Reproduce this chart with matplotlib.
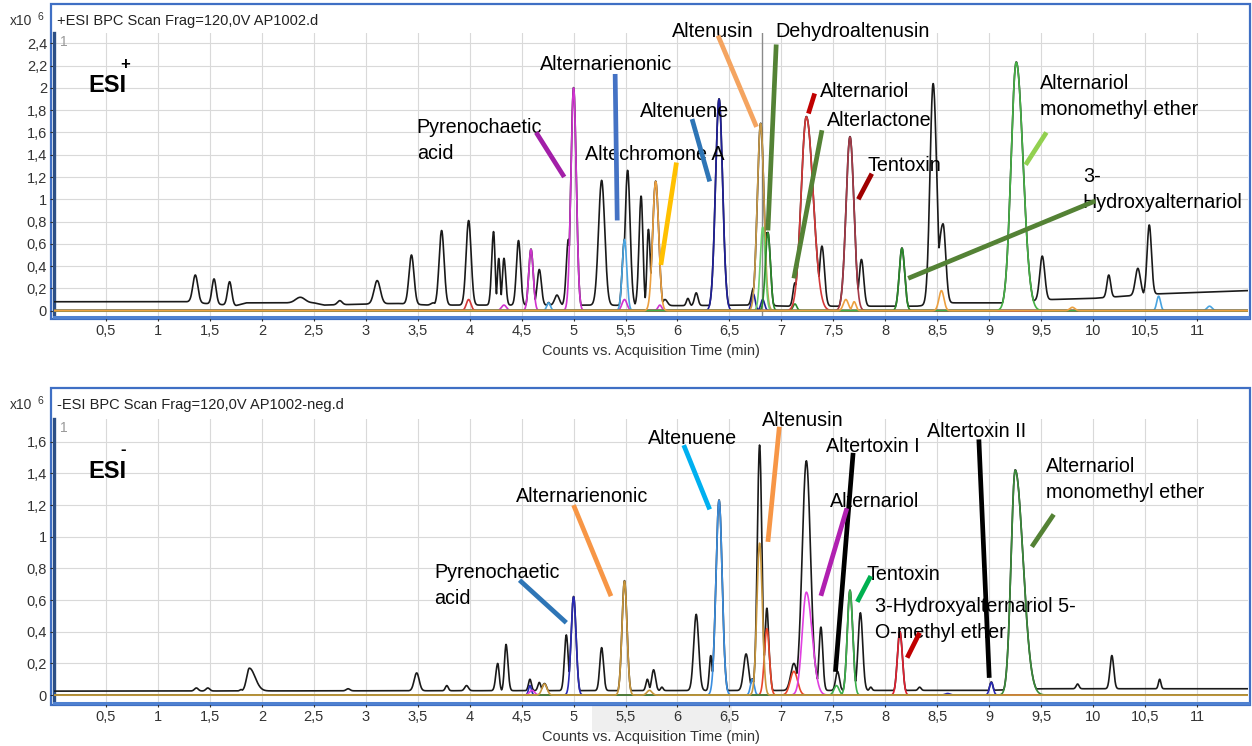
import numpy as np
import matplotlib
matplotlib.use("Agg")
import matplotlib.pyplot as plt
from matplotlib.patches import Rectangle
from matplotlib.ticker import FixedLocator, FuncFormatter

plt.rcParams['font.family'] = ['Liberation Sans', 'DejaVu Sans']

W, H = 1252, 746

# ======================= DATA : ESI+ =======================
# BPC (black) baseline breakpoints (min, x10^6 counts)
POS_BASE_T = [0, 1.3, 1.45, 1.75, 1.85, 2.25, 2.5, 2.6, 3.3, 3.6, 4.1, 5.0, 6.0, 6.7, 7.05, 7.5, 7.85, 8.3, 8.65, 9.15, 9.6, 10.0, 10.6, 11.49]
POS_BASE_V = [0.08, 0.08, 0.065, 0.045, 0.07, 0.07, 0.07, 0.05, 0.065, 0.05, 0.05, 0.05, 0.045, 0.05, 0.04, 0.04, 0.04, 0.04, 0.07, 0.07, 0.1, 0.11, 0.15, 0.18]
# peaks: (retention time, apex height, left width, right width)
POS_BPC = [(1.36, 0.32, 0.024, 0.024), (1.54, 0.285, 0.02, 0.02), (1.69, 0.26, 0.02, 0.02),
           (2.37, 0.12, 0.045, 0.045), (2.75, 0.09, 0.022, 0.022), (3.11, 0.27, 0.03, 0.03),
           (3.44, 0.50, 0.024, 0.024), (3.65, 0.07, 0.022, 0.022), (3.73, 0.72, 0.024, 0.024),
           (3.99, 0.81, 0.024, 0.024), (4.23, 0.71, 0.018, 0.014), (4.28, 0.47, 0.013, 0.013),
           (4.33, 0.47, 0.015, 0.017), (4.47, 0.63, 0.02, 0.02), (4.67, 0.37, 0.02, 0.02),
           (4.84, 0.14, 0.022, 0.022), (4.95, 0.64, 0.02, 0.02), (5.27, 1.17, 0.03, 0.03),
           (5.52, 1.26, 0.024, 0.024), (5.65, 1.03, 0.02, 0.017), (5.72, 0.73, 0.014, 0.018),
           (5.88, 0.1, 0.022, 0.022), (6.10, 0.11, 0.014, 0.014), (6.18, 0.16, 0.017, 0.017),
           (6.73, 0.2, 0.018, 0.018), (6.86, 0.7, 0.024, 0.024), (7.13, 0.25, 0.018, 0.018),
           (7.39, 0.58, 0.024, 0.024), (7.77, 0.46, 0.022, 0.022), (8.46, 2.04, 0.03, 0.034),
           (8.555, 0.78, 0.045, 0.026), (9.51, 0.49, 0.024, 0.024), (10.15, 0.32, 0.018, 0.018),
           (10.43, 0.38, 0.024, 0.024), (10.54, 0.77, 0.021, 0.021)]
POS_MAGENTA = [(4.33, 0.05, 0.024, 0.024), (4.59, 0.55, 0.022, 0.022), (5.0, 2.0, 0.026, 0.026),
               (5.49, 0.1, 0.024, 0.024), (5.83, 0.05, 0.018, 0.018)]
POS_LIGHTBLUE = [(4.76, 0.07, 0.018, 0.018), (5.49, 0.64, 0.022, 0.022),
                 (10.63, 0.13, 0.018, 0.018), (11.12, 0.04, 0.024, 0.024)]
POS_NAVY = [(6.40, 1.9, 0.034, 0.034), (6.73, 0.15, 0.018, 0.018), (6.82, 0.1, 0.018, 0.018)]
POS_TAN = [(6.80, 1.68, 0.032, 0.032)]
POS_LIGHTGREEN = [(6.82, 0.75, 0.024, 0.024)]
POS_DARKGREEN = [(6.87, 0.7, 0.024, 0.024), (7.13, 0.06, 0.018, 0.018), (8.16, 0.56, 0.026, 0.026)]
POS_RED = [(3.99, 0.1, 0.022, 0.022), (7.24, 1.74, 0.05, 0.065)]
POS_MAROON = [(7.66, 1.56, 0.038, 0.038)]
POS_AME = [(9.26, 2.23, 0.05, 0.065)]
POS_ORANGE = [(5.79, 1.16, 0.029, 0.029), (7.62, 0.1, 0.024, 0.024), (7.70, 0.08, 0.018, 0.018),
              (8.54, 0.18, 0.024, 0.024), (9.8, 0.03, 0.024, 0.024)]

POS_LABELS = ["Pyrenochaetic\nacid", "Alternarienonic", "Altenuene", "Altechromone A",
              "Altenusin", "Dehydroaltenusin", "Alternariol", "Alterlactone", "Tentoxin",
              "Alternariol\nmonomethyl ether", "3-\nHydroxyalternariol"]

# ======================= DATA : ESI- =======================
NEG_BASE_T = [0, 4.5, 9.0, 9.5, 11.49]
NEG_BASE_V = [0.025, 0.028, 0.03, 0.04, 0.04]
NEG_BPC = [(1.37, 0.045, 0.018, 0.018), (1.48, 0.045, 0.018, 0.018), (1.80, 0.035, 0.012, 0.012),
           (1.88, 0.17, 0.026, 0.055), (2.83, 0.04, 0.018, 0.018), (3.49, 0.14, 0.024, 0.024),
           (3.78, 0.06, 0.014, 0.014), (3.97, 0.06, 0.018, 0.018), (4.27, 0.2, 0.018, 0.014),
           (4.35, 0.32, 0.015, 0.018), (4.58, 0.1, 0.014, 0.014), (4.67, 0.08, 0.014, 0.014),
           (4.93, 0.38, 0.018, 0.018), (5.27, 0.3, 0.018, 0.018), (5.71, 0.1, 0.014, 0.014),
           (5.77, 0.16, 0.018, 0.018), (5.85, 0.05, 0.012, 0.012), (6.18, 0.51, 0.024, 0.024),
           (6.32, 0.25, 0.014, 0.014), (6.66, 0.26, 0.024, 0.024), (6.79, 1.58, 0.022, 0.022),
           (6.86, 0.55, 0.018, 0.018), (7.12, 0.2, 0.03, 0.03), (7.24, 1.48, 0.04, 0.04),
           (7.38, 0.43, 0.018, 0.018), (7.54, 0.15, 0.018, 0.018), (7.76, 0.52, 0.022, 0.022),
           (7.86, 0.05, 0.012, 0.012), (8.33, 0.05, 0.014, 0.014), (9.85, 0.07, 0.014, 0.014),
           (10.18, 0.25, 0.018, 0.018), (10.64, 0.1, 0.012, 0.012)]
NEG_NAVY = [(4.58, 0.06, 0.014, 0.014), (5.0, 0.62, 0.024, 0.024), (8.6, 0.01, 0.024, 0.024),
            (9.02, 0.08, 0.018, 0.018)]
NEG_LIGHTBLUE = [(6.40, 1.23, 0.03, 0.03), (6.72, 0.1, 0.018, 0.018)]
NEG_REDORANGE = [(6.86, 0.42, 0.024, 0.024), (7.12, 0.15, 0.035, 0.035)]
NEG_MAGENTA = [(4.6, 0.03, 0.024, 0.024), (7.24, 0.65, 0.04, 0.055)]
NEG_GREEN = [(7.53, 0.06, 0.024, 0.024), (7.66, 0.66, 0.026, 0.026)]
NEG_RED = [(8.14, 0.40, 0.024, 0.024)]
NEG_AME = [(9.25, 1.42, 0.04, 0.075)]
NEG_ORANGE = [(4.72, 0.07, 0.024, 0.024), (5.49, 0.72, 0.024, 0.024), (5.73, 0.03, 0.024, 0.024),
              (6.79, 0.96, 0.026, 0.026)]

NEG_LABELS = ["Pyrenochaetic\nacid", "Alternarienonic", "Altenuene", "Altenusin",
              "Altertoxin I", "Alternariol", "Altertoxin II", "Alternariol\nmonomethyl ether",
              "Tentoxin", "3-Hydroxyalternariol 5-\nO-methyl ether"]

X_TICKS = [0.5 * i for i in range(1, 23)]
POS_Y_TICKS = [0.2 * i for i in range(0, 13)]
NEG_Y_TICKS = [0.2 * i for i in range(0, 9)]

# ======================= layout / style =======================
POS_LABEL_XY = [(3.49, 1.53), (4.68, 2.21), (5.64, 1.79), (5.11, 1.40), (5.95, 2.51), (6.94, 2.51),
                (7.37, 1.97), (7.44, 1.71), (7.83, 1.30), (9.49, 1.92), (9.90, 1.09)]
POS_PTR = [((4.64, 1.60), (4.91, 1.20)), ((5.40, 2.125), (5.42, 0.81)), ((6.14, 1.72), (6.31, 1.16)),
           ((5.99, 1.33), (5.84, 0.41)), ((6.39, 2.47), (6.76, 1.65)), ((6.95, 2.39), (6.87, 0.72)),
           ((7.32, 1.95), (7.26, 1.77)), ((7.39, 1.62), (7.12, 0.29)), ((7.87, 1.23), (7.74, 1.0)),
           ((9.55, 1.60), (9.35, 1.31)), ((10.02, 0.985), (8.22, 0.29))]
POS_PTR_COL = ['#a21fa8', '#4472c4', '#2e75b6', '#ffc000', '#f4a460', '#548235',
               '#c00000', '#548235', '#a00000', '#92d050', '#548235']

NEG_LABEL_XY = [(3.66, 0.69), (4.45, 1.257), (5.72, 1.62), (6.81, 1.733), (7.43, 1.573),
                (7.47, 1.221), (8.40, 1.663), (9.55, 1.363), (7.82, 0.762), (7.90, 0.479)]
NEG_PTR = [((4.48, 0.726), (4.93, 0.457)), ((5.0, 1.20), (5.36, 0.625)), ((6.06, 1.579), (6.31, 1.173)),
           ((6.98, 1.695), (6.87, 0.968)), ((7.69, 1.53), (7.52, 0.147)), ((7.63, 1.18), (7.38, 0.627)),
           ((8.90, 1.615), (9.00, 0.109)), ((9.62, 1.141), (9.41, 0.937)), ((7.86, 0.752), (7.73, 0.589)),
           ((8.33, 0.394), (8.21, 0.236))]
NEG_PTR_COL = ['#2e75b6', '#f79646', '#00b0f0', '#f79646', '#000000', '#b020b0',
               '#000000', '#548235', '#00b050', '#c00000']

t = np.linspace(0, 11.49, 4000)


def build(peaks, base_t=None, base_v=None):
    if base_t is None:
        base = np.zeros_like(t)
    else:
        base = np.interp(t, base_t, base_v)
    y = base.copy()
    for (tp, h, sl, sr) in peaks:
        b0 = 0.0 if base_t is None else np.interp(tp, base_t, base_v)
        s = np.where(t < tp, sl, sr)
        y = np.maximum(y, base + (h - b0) * np.exp(-0.5 * ((t - tp) / s) ** 2))
    return y


def fmt(v, pos):
    v = round(v, 2)
    return ('%g' % v).replace('.', ',')


def px_rect(x0, y0, x1, y1):
    return [x0 / W, 1 - y1 / H, (x1 - x0) / W, (y1 - y0) / H]


fig = plt.figure(figsize=(W / 100, H / 100), dpi=100)
LABEL_FS = 14.2


def panel(rect_px, frame_px, ylim, yticks, title, sign, base_t, base_v, bpc, colored,
          labels, label_xy, ptrs, ptr_cols, cursor=None, shade=False):
    fx0, fy0, fx1, fy1 = frame_px
    fig.patches.append(Rectangle((fx0 / W, 1 - fy1 / H), (fx1 - fx0) / W, (fy1 - fy0) / H,
                                 transform=fig.transFigure, fill=False, ec='#3f6fc4', lw=1.6, zorder=-1))
    if shade:
        fig.patches.append(Rectangle((592 / W, 1 - 732 / H), 140 / W, 26 / H, transform=fig.transFigure,
                                     fc='#efefef', ec='none', zorder=-2))
    ax = fig.add_axes(px_rect(*rect_px))
    ax.patch.set_alpha(0)
    ax.set_xlim(0, 11.49)
    ax.set_ylim(*ylim)
    ax.xaxis.set_major_locator(FixedLocator(X_TICKS))
    ax.yaxis.set_major_locator(FixedLocator(yticks))
    ax.xaxis.set_major_formatter(FuncFormatter(fmt))
    ax.yaxis.set_major_formatter(FuncFormatter(fmt))
    ax.grid(True, color='#d9d9d9', lw=0.8)
    ax.set_axisbelow(True)
    ax.tick_params(axis='both', labelsize=10.5, colors='#333333', length=3, width=0.8, pad=2)
    for sp in ['top', 'right']:
        ax.spines[sp].set_visible(False)
    ax.spines['left'].set_color('#2c4f86')
    ax.spines['left'].set_linewidth(2.4)
    ax.spines['bottom'].set_color('#4f81d0')
    ax.spines['bottom'].set_linewidth(2.2)

    cols = [(build(pk), c) for pk, c in colored]
    black = build(bpc, base_t, base_v)
    for yc, c in cols:
        black = np.maximum(black, yc + 0.003)
    ax.plot(t, black, color='#1a1a1a', lw=1.2, zorder=3)
    for yc, c in cols:
        ax.plot(t, yc, color=c, lw=1.2, zorder=4)
    if cursor is not None:
        ax.axvline(cursor, color='#8a8a8a', lw=1.0, zorder=2)

    for lab, (lx, ly) in zip(labels, label_xy):
        ax.text(lx, ly, lab, fontsize=LABEL_FS, ha='left', va='center', linespacing=1.45,
                color='black', zorder=6, clip_on=False)
    for ((x1, y1), (x2, y2)), c in zip(ptrs, ptr_cols):
        ax.plot([x1, x2], [y1, y2], color=c, lw=3.4, solid_capstyle='butt', zorder=7, clip_on=False)

    ty = (fy0 + 17) / H
    fig.text(10 / W, 1 - ty, 'x10', fontsize=10, color='#333333', va='center', ha='left')
    fig.text(37 / W, 1 - ty + 0.006, '6', fontsize=7.5, color='#333333', va='center', ha='left')
    fig.text(57 / W, 1 - ty, title, fontsize=10.5, color='#222222', va='center', ha='left')
    fig.text(60 / W, 1 - (rect_px[1] + 9) / H, '1', fontsize=10, color='#999999', va='center', ha='left')
    fig.text(88 / W, 1 - (rect_px[1] + 53) / H, 'ESI', fontsize=17, fontweight='bold', va='center', ha='left')
    fig.text(120 / W, 1 - (rect_px[1] + 31) / H, sign, fontsize=12, fontweight='bold', va='center', ha='left')
    fig.text(651 / W, 1 - (rect_px[3] + 34) / H, 'Counts vs. Acquisition Time (min)', fontsize=10.5,
             color='#333333', va='center', ha='center')
    return ax


panel((54, 33, 1248, 317), (51, 4, 1250, 319), (-0.057, 2.493), POS_Y_TICKS,
      '+ESI BPC Scan Frag=120,0V AP1002.d', '+', POS_BASE_T, POS_BASE_V, POS_BPC,
      [(POS_MAGENTA, '#d033d0'), (POS_LIGHTBLUE, '#49a4e0'), (POS_NAVY, '#20209a'),
       (POS_TAN, '#c89a48'), (POS_LIGHTGREEN, '#6ccf6c'), (POS_DARKGREEN, '#2a8a2a'),
       (POS_RED, '#d43838'), (POS_MAROON, '#a53a48'), (POS_AME, '#45b045'), (POS_ORANGE, '#eca040')],
      POS_LABELS, POS_LABEL_XY, POS_PTR, POS_PTR_COL, cursor=6.81)

panel((54, 419, 1248, 703), (51, 388, 1250, 705), (-0.05, 1.744), NEG_Y_TICKS,
      '-ESI BPC Scan Frag=120,0V AP1002-neg.d', '-', NEG_BASE_T, NEG_BASE_V, NEG_BPC,
      [(NEG_NAVY, '#2a2ab4'), (NEG_LIGHTBLUE, '#3a8ee0'), (NEG_REDORANGE, '#e8462a'),
       (NEG_MAGENTA, '#e040e0'), (NEG_GREEN, '#3cb04c'), (NEG_RED, '#e02030'),
       (NEG_AME, '#3a8a3a'), (NEG_ORANGE, '#c8963c')],
      NEG_LABELS, NEG_LABEL_XY, NEG_PTR, NEG_PTR_COL, shade=True)

fig.savefig('out.png', dpi=100)
